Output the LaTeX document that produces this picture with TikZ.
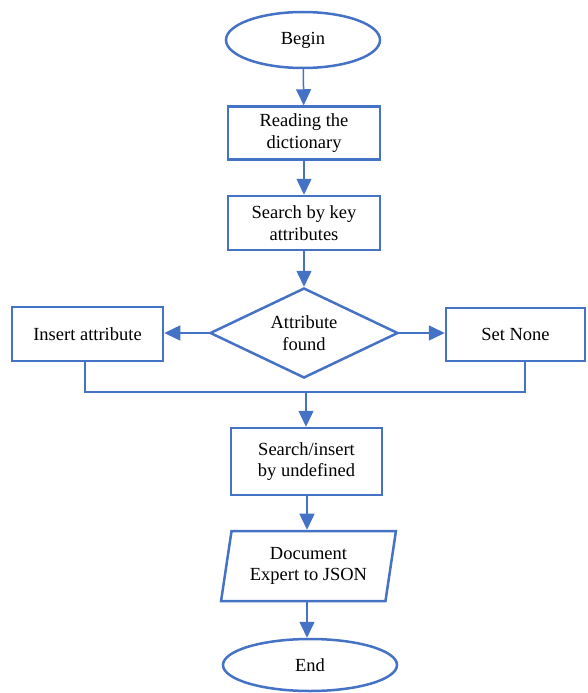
\documentclass[tikz,border=0pt]{standalone}
\usepackage{fontspec}
\setmainfont{Liberation Serif}
\usetikzlibrary{shapes.geometric,arrows.meta}
\definecolor{wblue}{HTML}{4472C4}
\begin{document}
\begin{tikzpicture}[x=1pt,y=-1pt,
  every node/.style={font=\fontsize{18.5}{21.5}\selectfont, align=center, text=black},
  boxshape/.style={draw=wblue, line width=2.5pt, minimum width=152pt, minimum height=53pt, inner sep=0pt},
  ovalshape/.style={draw=wblue, line width=2.5pt, ellipse, inner sep=0pt},
  diashape/.style={draw=wblue, line width=2.5pt, diamond, aspect=2, minimum width=188pt, minimum height=90pt, inner sep=0pt},
  parashape/.style={draw=wblue, line width=2.5pt, trapezium, trapezium left angle=78, trapezium right angle=102, minimum width=175pt, minimum height=70pt, inner sep=0pt, trapezium stretches=true},
  conn/.style={draw=wblue, line width=1.5pt},
  arr/.style={conn, -{Triangle[length=16pt,width=15pt]}}]
\useasboundingbox (0,0) rectangle (587,693);
\node[ovalshape, minimum width=154pt, minimum height=56pt] (begin) at (303,40) {Begin};
\node[boxshape] (read) at (304,133) {Reading the\\dictionary};
\node[boxshape, minimum height=54pt] (search) at (304,223) {Search by key\\attributes};
\node[diashape] (dia) at (304,333) {Attribute\\found};
\node[boxshape, minimum width=151pt, minimum height=54pt] (ins) at (87.5,334) {Insert attribute};
\node[boxshape, minimum width=139pt] (setn) at (515.5,334.5) {Set None};
\node[boxshape, minimum width=151pt, minimum height=67pt] (undef) at (306.5,461.5) {Search/insert\\by undefined};
\node[parashape] (doc) at (308.5,566) {Document\\Expert to JSON};
\node[ovalshape, minimum width=174pt, minimum height=52pt] (end) at (310,665) {End};
\coordinate (jl) at (85,392);
\coordinate (jr) at (525,392);
\coordinate (jm) at (306,392);
\draw[arr] (begin) -- (read);
\draw[arr] (read) -- (search);
\draw[arr] (search) -- (dia);
\draw[arr] (dia.west) -- (ins.east |- dia.west);
\draw[arr] (dia.east) -- (setn.west |- dia.east);
\draw[conn] (ins.south -| jl) -- (jl) -- (jr) -- (setn.south -| jr);
\draw[arr] (jm) -- (undef.north -| jm);
\draw[arr] (undef.south -| 307,0) -- (doc.north -| 307,0);
\draw[arr] (doc.south -| 307,0) -- (end.north -| 307,0);
\end{tikzpicture}
\end{document}
